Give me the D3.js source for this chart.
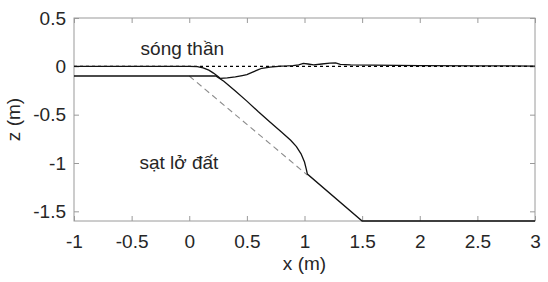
<!DOCTYPE html>
<html>
<head>
<meta charset="utf-8">
<script src="https://cdn.jsdelivr.net/npm/d3@7"></script>
<style>
  body { margin: 0; background: #fff; }
  svg text { font-family: "Liberation Sans", Arial, sans-serif; fill: #262626; }
</style>
</head>
<body>
<svg width="548" height="282"></svg>
<script>
// still water level z = 0
var stillX = [-1, 3];
var stillZ = [0, 0];

// free surface (sóng thần)
var waveX = [-1, 0, 0.07, 0.12, 0.17, 0.21, 0.25, 0.27, 0.33, 0.4, 0.46, 0.5, 0.55, 0.6, 0.63, 0.66, 0.7, 0.75,
             0.8, 0.85, 0.9, 0.95, 0.99, 1.03, 1.08, 1.15, 1.22, 1.27, 1.31, 1.4, 1.6, 2, 2.5, 3];
var waveZ = [0, 0, -0.003, -0.015, -0.04, -0.07, -0.105, -0.125, -0.12, -0.11, -0.095, -0.085, -0.06, -0.035, -0.02, -0.015, -0.008, -0.002,
             0.002, 0.004, 0.008, 0.014, 0.03, 0.024, 0.015, 0.024, 0.034, 0.036, 0.02, 0.015, 0.012, 0.008, 0.005, 0.003];

// bed with deformed landslide (sạt lở đất)
var bedX = [-1, 0.23, 0.3, 0.4, 0.5, 0.6, 0.7, 0.8, 0.88, 0.93, 0.97, 1.0, 1.015, 1.025, 1.5, 3];
var bedZ = [-0.1, -0.1, -0.155, -0.255, -0.36, -0.47, -0.575, -0.68, -0.765, -0.83, -0.905, -0.99, -1.06, -1.115, -1.6, -1.6];

// original slope (dashed grey)
var slopeX = [0, 1.025];
var slopeZ = [-0.1, -1.125];

var xTicks = [-1, -0.5, 0, 0.5, 1, 1.5, 2, 2.5, 3];
var yTicks = [0.5, 0, -0.5, -1, -1.5];

var svg = d3.select("svg");
var margin = {top: 18, right: 13, bottom: 61, left: 74};
var width = +svg.attr("width") - margin.left - margin.right;
var height = +svg.attr("height") - margin.top - margin.bottom;

var x = d3.scaleLinear().domain([-1, 3]).range([0, width]);
var y = d3.scaleLinear().domain([-1.6, 0.5]).range([height, 0]);

var g = svg.append("g")
    .attr("transform", "translate(" + margin.left + "," + margin.top + ")");

var axisColor = "#9a9a9a";
var fontSize = "19px";

// box
g.append("rect")
    .attr("width", width)
    .attr("height", height)
    .attr("fill", "none")
    .attr("stroke", axisColor)
    .attr("stroke-width", 1);

// plain hyphen for negatives, like the original
var fmt = function(d) { return String(d); };

// ticks, inward on all four sides
function styleAxis(sel, showLabels) {
  sel.select(".domain").remove();
  sel.selectAll(".tick line").attr("stroke", axisColor);
  sel.selectAll(".tick text")
      .style("font-size", fontSize)
      .attr("fill", "#262626")
      .style("display", showLabels ? null : "none");
}

g.append("g")
    .attr("transform", "translate(0," + height + ")")
    .call(d3.axisBottom(x).tickValues(xTicks).tickSizeInner(-5).tickPadding(14).tickFormat(fmt))
    .call(styleAxis, true);
g.append("g")
    .call(d3.axisTop(x).tickValues(xTicks).tickSizeInner(-5))
    .call(styleAxis, false);
g.append("g")
    .call(d3.axisLeft(y).tickValues(yTicks).tickSizeInner(-5).tickPadding(8).tickFormat(fmt))
    .call(styleAxis, true);
g.append("g")
    .attr("transform", "translate(" + width + ",0)")
    .call(d3.axisRight(y).tickValues(yTicks).tickSizeInner(-5))
    .call(styleAxis, false);

var line = d3.line()
    .x(function(d) { return x(d[0]); })
    .y(function(d) { return y(d[1]); });

function pairs(xs, zs) { return xs.map(function(v, i) { return [v, zs[i]]; }); }

g.append("path")
    .attr("d", line(pairs(slopeX, slopeZ)))
    .attr("fill", "none")
    .attr("stroke", "#8c8c8c")
    .attr("stroke-width", 1.1)
    .attr("stroke-dasharray", "6,4");

g.append("path")
    .attr("d", line(pairs(stillX, stillZ)))
    .attr("fill", "none")
    .attr("stroke", "#000")
    .attr("stroke-width", 1.1)
    .attr("stroke-dasharray", "3,3");

g.append("path")
    .attr("d", line(pairs(waveX, waveZ)))
    .attr("fill", "none")
    .attr("stroke", "#111")
    .attr("stroke-width", 1.3);

g.append("path")
    .attr("d", line(pairs(bedX, bedZ)))
    .attr("fill", "none")
    .attr("stroke", "#111")
    .attr("stroke-width", 1.3);

// annotations
g.append("text")
    .attr("x", x(-0.06))
    .attr("y", y(0.115))
    .attr("text-anchor", "middle")
    .style("font-size", fontSize)
    .text("sóng thần");
g.append("text")
    .attr("x", x(-0.09))
    .attr("y", y(-1.065))
    .attr("text-anchor", "middle")
    .style("font-size", fontSize)
    .text("sạt lở đất");

// axis labels
g.append("text")
    .attr("x", width / 2)
    .attr("y", height + 49)
    .attr("text-anchor", "middle")
    .style("font-size", fontSize)
    .text("x (m)");
g.append("text")
    .attr("transform", "translate(" + (-54) + "," + (height / 2) + ") rotate(-90)")
    .attr("text-anchor", "middle")
    .style("font-size", fontSize)
    .text("z (m)");
</script>
</body>
</html>
